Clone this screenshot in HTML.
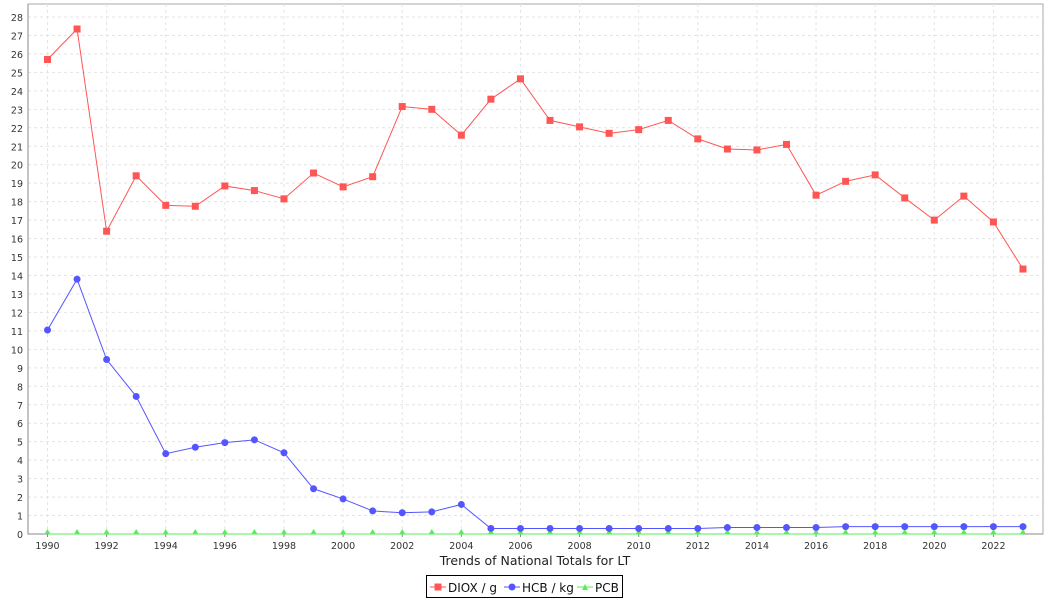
<!DOCTYPE html>
<html><head><meta charset="utf-8"><style>
html,body{margin:0;padding:0;background:#fff;width:1050px;height:600px;overflow:hidden}
svg{font-family:"DejaVu Sans","Liberation Sans",sans-serif}
</style></head><body>
<svg id="s" width="1050" height="600" xmlns="http://www.w3.org/2000/svg"></svg>
<script>
const s=document.getElementById('s');
const X0=28,X1=1043,Y0=534,YT=4;
const xs=y=>47.5+(y-1990)*29.56;
const ys=v=>534-v*18.464;
let h='';
h+=`<rect x="${X0}" y="${YT}" width="${X1-X0}" height="${Y0-YT}" fill="#fff" stroke="#aaa"/>`;
for(let v=1;v<=28;v++){h+=`<line x1="${X0}" x2="${X1}" y1="${ys(v)}" y2="${ys(v)}" stroke="#e4e4e4" stroke-dasharray="3,3"/>`;}
for(let y=1990;y<=2022;y+=2){h+=`<line x1="${xs(y)}" x2="${xs(y)}" y1="${YT}" y2="${Y0}" stroke="#e4e4e4" stroke-dasharray="3,3"/>`;
h+=`<line x1="${xs(y)}" x2="${xs(y)}" y1="${Y0}" y2="${Y0+3}" stroke="#888"/>`;
h+=`<text x="${xs(y)}" y="${Y0+15}" font-size="9.5" text-anchor="middle" fill="#333">${y}</text>`;}
for(let v=0;v<=28;v++){h+=`<text x="${X0-5}" y="${ys(v)+4}" font-size="9.5" text-anchor="end" fill="#333">${v}</text>`;}
h+=`<line x1="${X0}" x2="${X0}" y1="${YT}" y2="${Y0}" stroke="#888"/><line x1="${X0}" x2="${X1}" y1="${Y0}" y2="${Y0}" stroke="#888"/>`;
const D=[25.7,27.35,16.4,19.4,17.8,17.75,18.85,18.6,18.15,19.55,18.8,19.35,23.15,23.0,21.6,23.55,24.65,22.4,22.05,21.7,21.9,22.4,21.4,20.85,20.8,21.1,18.35,19.1,19.45,18.2,17.0,18.3,16.9,14.35];
const H=[11.05,13.8,9.45,7.45,4.35,4.7,4.95,5.1,4.4,2.45,1.9,1.25,1.15,1.2,1.6,0.3,0.3,0.3,0.3,0.3,0.3,0.3,0.3,0.35,0.35,0.35,0.35,0.4,0.4,0.4,0.4,0.4,0.4,0.4];
function line(a,c){return `<polyline fill="none" stroke="${c}" stroke-width="1" points="${a.map((v,i)=>xs(1990+i)+','+ys(v)).join(' ')}"/>`;}
h+=line(D.map(()=>0),'#55ee55');
D.forEach((v,i)=>{h+=`<polygon points="${xs(1990+i)-3},${Y0} ${xs(1990+i)+3},${Y0} ${xs(1990+i)},${Y0-5}" fill="#55ee55"/>`;});
h+=line(H,'#5555ff');
H.forEach((v,i)=>{h+=`<circle cx="${xs(1990+i)}" cy="${ys(v)}" r="3.5" fill="#5555ff"/>`;});
h+=line(D,'#ff5555');
D.forEach((v,i)=>{h+=`<rect x="${xs(1990+i)-3.5}" y="${ys(v)-3.5}" width="7" height="7" fill="#ff5555"/>`;});
h+=`<text x="535" y="565" font-size="12.5" text-anchor="middle" fill="#222">Trends of National Totals for LT</text>`;
h+=`<rect x="426.5" y="575.5" width="196" height="22" fill="#fff" stroke="#000"/>`;
h+=`<line x1="430" x2="446" y1="587" y2="587" stroke="#ff5555"/><rect x="434.5" y="583.5" width="7" height="7" fill="#ff5555"/><text x="448" y="592" font-size="12" fill="#111">DIOX / g</text>`;
h+=`<line x1="504" x2="520" y1="587" y2="587" stroke="#5555ff"/><circle cx="512" cy="587" r="3.5" fill="#5555ff"/><text x="522" y="592" font-size="12" fill="#111">HCB / kg</text>`;
h+=`<line x1="577" x2="593" y1="587" y2="587" stroke="#55ee55"/><polygon points="582,590 588,590 585,584" fill="#55ee55"/><text x="595" y="592" font-size="12" fill="#111">PCB</text>`;
s.innerHTML=h;
</script>
</body></html>
